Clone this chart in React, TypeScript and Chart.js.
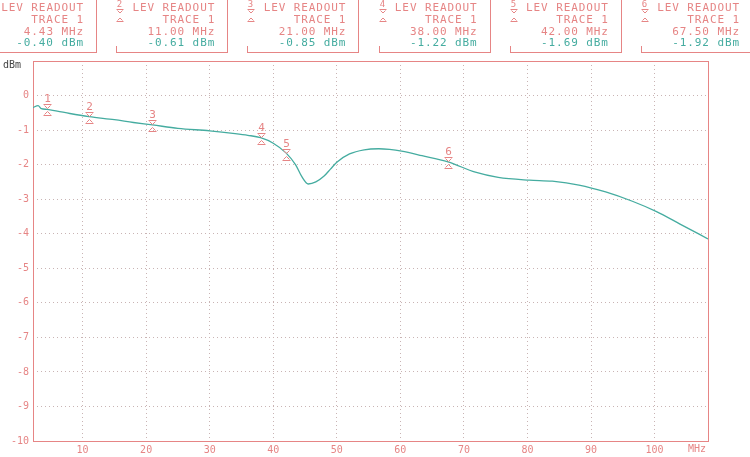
import { useEffect, useRef } from "react";
import Chart from "chart.js/auto";

// trace 1
const freqMHz = [2.2, 3.0, 3.5, 4.43, 6, 8, 11, 15, 18, 21, 25, 30, 34, 36, 38, 40, 42, 43.5, 44.5, 45.5, 46.7, 48, 49, 50, 52, 54.3, 56.6, 58.3, 60.2, 63.4, 67.5, 71.8, 75.4, 80.3, 83.9, 88.1, 92.3, 96.5, 100.3, 104, 108.4];
const levelDbm = [-0.35, -0.29, -0.38, -0.40, -0.45, -0.52, -0.61, -0.70, -0.78, -0.85, -0.95, -1.02, -1.10, -1.15, -1.22, -1.38, -1.66, -2.0, -2.35, -2.56, -2.50, -2.33, -2.13, -1.93, -1.69, -1.57, -1.54, -1.56, -1.61, -1.74, -1.92, -2.22, -2.37, -2.45, -2.48, -2.59, -2.79, -3.06, -3.36, -3.72, -4.15];

const markerIds = [1, 2, 3, 4, 5, 6];
const markerFreq = [4.43, 11, 21, 38, 42, 67.5];
const markerLevel = [-0.40, -0.61, -0.85, -1.22, -1.69, -1.92];

const xTicks = [10, 20, 30, 40, 50, 60, 70, 80, 90, 100];
const yTicks = [0, -1, -2, -3, -4, -5, -6, -7, -8, -9, -10];

const RED = "#e68585";
const TEAL = "#45aca0";
const MONO = "'DejaVu Sans Mono', 'Liberation Mono', monospace";

const screenPlugin = {
  id: "screen",
  beforeDatasetsDraw(chart: any) {
    const { ctx, chartArea: a } = chart;
    ctx.save();
    ctx.strokeStyle = RED;
    ctx.lineWidth = 1;
    ctx.strokeRect(a.left + 0.5, a.top + 0.5, a.right - a.left, a.bottom - a.top);
    ctx.fillStyle = "#444";
    ctx.font = `10px ${MONO}`;
    ctx.textBaseline = "middle";
    ctx.fillText("dBm", 3, 65);
    ctx.fillStyle = RED;
    ctx.textAlign = "right";
    ctx.fillText("MHz", 706, 449);
    ctx.restore();
  },
  afterDatasetsDraw(chart: any) {
    const { ctx } = chart;
    const xs = chart.scales.x;
    const ys = chart.scales.y;
    ctx.save();
    ctx.strokeStyle = RED;
    ctx.fillStyle = RED;
    ctx.lineWidth = 1;
    ctx.font = `11px ${MONO}`;
    ctx.textAlign = "center";
    ctx.textBaseline = "middle";
    markerIds.forEach((id, i) => {
      const x = Math.round(xs.getPixelForValue(markerFreq[i])) + 0.5;
      const y = Math.round(ys.getPixelForValue(markerLevel[i])) + 0.5;
      ctx.fillText(String(id), x, y - 10);
      ctx.beginPath();
      ctx.moveTo(x - 4, y - 5);
      ctx.lineTo(x + 4, y - 5);
      ctx.moveTo(x - 3, y - 4);
      ctx.lineTo(x, y - 1);
      ctx.lineTo(x + 3, y - 4);
      ctx.moveTo(x - 3, y + 5);
      ctx.lineTo(x, y + 2);
      ctx.lineTo(x + 3, y + 5);
      ctx.moveTo(x - 4, y + 6);
      ctx.lineTo(x + 4, y + 6);
      ctx.stroke();
    });
    ctx.restore();
  },
};

function ReadoutBox({ index }: { index: number }) {
  const left = -15 + index * 131.2;
  return (
    <div
      style={{
        position: "absolute",
        left,
        top: 0,
        width: 112,
        height: 53,
        borderRight: `1px solid ${RED}`,
        borderBottom: `1px solid ${RED}`,
        boxSizing: "border-box",
        fontFamily: MONO,
        fontSize: 11,
        letterSpacing: 0.9,
        lineHeight: "11.8px",
        textAlign: "right",
        paddingTop: 2,
        paddingRight: 12,
        color: RED,
        whiteSpace: "pre",
      }}
    >
      <div style={{ position: "absolute", left: 0, bottom: 0, width: 1, height: 6, background: RED }} />
      <svg width={10} height={24} style={{ position: "absolute", left: -1, top: 0 }}>
        <text x={5} y={7} fontSize={9} fill={RED} textAnchor="middle" fontFamily={MONO}>
          {markerIds[index]}
        </text>
        <path d="M1.5 9.5 H8.5 M2.5 10.5 L5 13 L7.5 10.5 M2.5 20.5 L5 18 L7.5 20.5 M1.5 21.5 H8.5" stroke={RED} strokeWidth={1} fill="none" />
      </svg>
      <div>LEV READOUT</div>
      <div>TRACE 1</div>
      <div>{markerFreq[index].toFixed(2)} MHz</div>
      <div style={{ color: TEAL }}>{markerLevel[index].toFixed(2)} dBm</div>
    </div>
  );
}

export default function App() {
  const canvasRef = useRef<HTMLCanvasElement | null>(null);

  useEffect(() => {
    document.body.style.margin = "0";
    if (!canvasRef.current) return;
    const chart = new Chart(canvasRef.current, {
      type: "line",
      data: {
        datasets: [
          {
            data: freqMHz.map((f, i) => ({ x: f, y: levelDbm[i] })),
            borderColor: TEAL,
            borderWidth: 1.3,
            pointRadius: 0,
            cubicInterpolationMode: "monotone",
            fill: false,
          },
        ],
      },
      options: {
        animation: false,
        responsive: false,
        layout: { padding: { top: 61, right: 42, left: 0, bottom: 0 } },
        plugins: { legend: { display: false }, tooltip: { enabled: false } },
        scales: {
          x: {
            type: "linear",
            min: 2.2,
            max: 108.4,
            afterBuildTicks: (s: any) => {
              s.ticks = xTicks.map((v) => ({ value: v }));
            },
            afterFit: (s: any) => {
              s.height = 16;
            },
            ticks: { color: RED, font: { family: MONO, size: 10 }, padding: 3, maxRotation: 0, autoSkip: false, callback: (v: any) => String(v) },
            grid: { color: "#c9b4b4", drawTicks: false, lineWidth: 1 },
            border: { display: false, dash: [1, 3] },
          },
          y: {
            min: -10,
            max: 1,
            afterBuildTicks: (s: any) => {
              s.ticks = yTicks.map((v) => ({ value: v }));
            },
            afterFit: (s: any) => {
              s.width = 33;
            },
            ticks: { color: RED, font: { family: MONO, size: 10 }, padding: 4, autoSkip: false, callback: (v: any) => String(v) },
            grid: { color: "#c9b4b4", drawTicks: false, lineWidth: 1 },
            border: { display: false, dash: [1, 3] },
          },
        },
      },
      plugins: [screenPlugin],
    });
    return () => chart.destroy();
  }, []);

  return (
    <div style={{ position: "relative", width: 750, height: 457, overflow: "hidden", background: "#fff" }}>
      <canvas ref={canvasRef} width={750} height={457} style={{ position: "absolute", left: 0, top: 0 }} />
      {markerIds.map((_, i) => (
        <ReadoutBox key={i} index={i} />
      ))}
    </div>
  );
}
